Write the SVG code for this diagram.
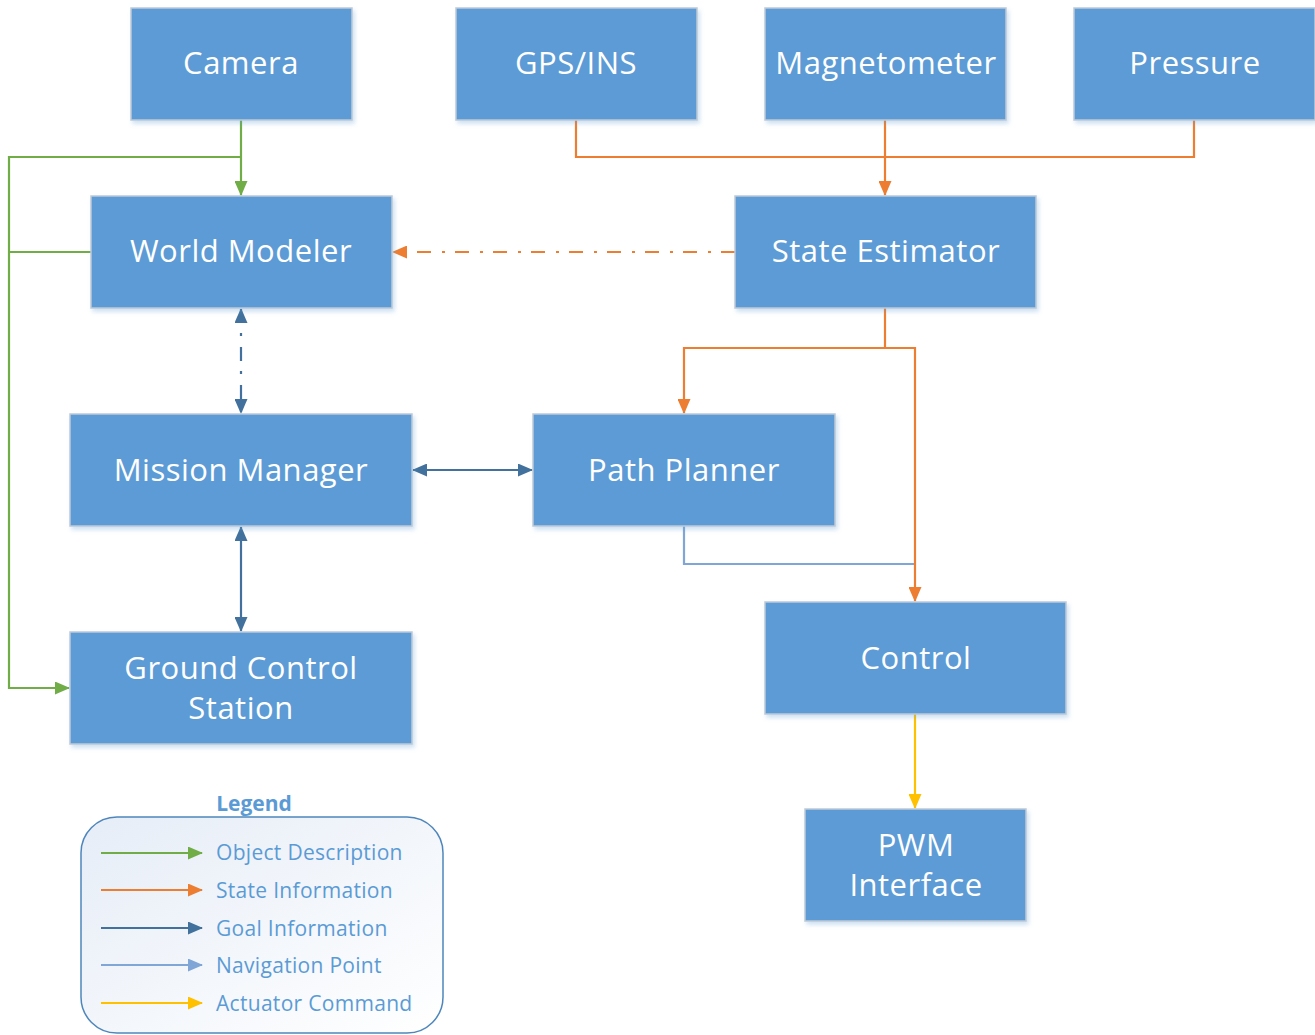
<svg xmlns="http://www.w3.org/2000/svg" width="1315" height="1035" viewBox="0 0 1315 1035">
<style>
.box{fill:#5B9BD5;stroke:#BFC9D6;stroke-width:1.5}
.lbl{font-family:"Open Sans","Noto Sans",sans-serif;font-size:31px;letter-spacing:0.5px;fill:#FFFFFF;text-anchor:middle}
.c{fill:none;stroke-width:2.2}
.g{stroke:#70AD47}.o{stroke:#ED7D31}.b{stroke:#41719C}.n{stroke:#7FA6D6}.y{stroke:#FFC000}
.leg{font-family:"Open Sans","Noto Sans",sans-serif;font-size:21px;letter-spacing:0.3px;fill:#5B9BD5}
</style>
<defs>
<filter id="sh" x="-10%" y="-10%" width="125%" height="130%">
<feDropShadow dx="2" dy="3" stdDeviation="2" flood-color="#5B9BD5" flood-opacity="0.3"/>
</filter>
<linearGradient id="lg" x1="0" y1="0" x2="1" y2="1">
<stop offset="0" stop-color="#E6EDF7"/>
<stop offset="1" stop-color="#FFFFFF"/>
</linearGradient>
<marker id="ag" viewBox="0 0 15 13" refX="14" refY="6.5" markerWidth="15" markerHeight="13" markerUnits="userSpaceOnUse" orient="auto-start-reverse"><path d="M0,0 L15,6.5 L0,13 Z" fill="#70AD47"/></marker>
<marker id="ao" viewBox="0 0 15 13" refX="14" refY="6.5" markerWidth="15" markerHeight="13" markerUnits="userSpaceOnUse" orient="auto-start-reverse"><path d="M0,0 L15,6.5 L0,13 Z" fill="#ED7D31"/></marker>
<marker id="ab" viewBox="0 0 15 13" refX="14" refY="6.5" markerWidth="15" markerHeight="13" markerUnits="userSpaceOnUse" orient="auto-start-reverse"><path d="M0,0 L15,6.5 L0,13 Z" fill="#41719C"/></marker>
<marker id="an" viewBox="0 0 15 13" refX="14" refY="6.5" markerWidth="15" markerHeight="13" markerUnits="userSpaceOnUse" orient="auto-start-reverse"><path d="M0,0 L15,6.5 L0,13 Z" fill="#7FA6D6"/></marker>
<marker id="ay" viewBox="0 0 15 13" refX="14" refY="6.5" markerWidth="15" markerHeight="13" markerUnits="userSpaceOnUse" orient="auto-start-reverse"><path d="M0,0 L15,6.5 L0,13 Z" fill="#FFC000"/></marker>
</defs>
<rect width="1315" height="1035" fill="#FFFFFF"/>

<g id="connectors">
<path class="c g" d="M241,120 V195" marker-end="url(#ag)"/>
<path class="c g" d="M241,157 H9 V688 H69" marker-end="url(#ag)"/>
<path class="c g" d="M91,252 H9"/>
<path class="c o" d="M576,120 V157 H1194 V120"/>
<path class="c o" d="M885,120 V195" marker-end="url(#ao)"/>
<path class="c o" d="M735,252 H393" stroke-dasharray="14 10 3 11" marker-end="url(#ao)"/>
<path class="c b" d="M241,309 V413" stroke-dasharray="14 10 3 11" marker-start="url(#ab)" marker-end="url(#ab)"/>
<path class="c b" d="M413,470 H532" marker-start="url(#ab)" marker-end="url(#ab)"/>
<path class="c b" d="M241,527 V631" marker-start="url(#ab)" marker-end="url(#ab)"/>
<path class="c n" d="M684,526 V564 H915"/>
<path class="c o" d="M885,308 V348 H684 V413" marker-end="url(#ao)"/>
<path class="c o" d="M885,348 H915 V601" marker-end="url(#ao)"/>
<path class="c y" d="M915,714 V808" marker-end="url(#ay)"/>
</g>

<g id="camera"><rect class="box" filter="url(#sh)" x="131" y="8" width="221" height="112"/><text class="lbl" x="241" y="74">Camera</text></g>
<g id="gps"><rect class="box" filter="url(#sh)" x="456" y="8" width="241" height="112"/><text class="lbl" x="576" y="74">GPS/INS</text></g>
<g id="magnetometer"><rect class="box" filter="url(#sh)" x="765" y="8" width="241" height="112"/><text class="lbl" x="886" y="74">Magnetometer</text></g>
<g id="pressure"><rect class="box" filter="url(#sh)" x="1074" y="8" width="241" height="112"/><text class="lbl" x="1195" y="74">Pressure</text></g>
<g id="world-modeler"><rect class="box" filter="url(#sh)" x="91" y="196" width="301" height="112"/><text class="lbl" x="241" y="262">World Modeler</text></g>
<g id="state-estimator"><rect class="box" filter="url(#sh)" x="735" y="196" width="301" height="112"/><text class="lbl" x="886" y="262">State Estimator</text></g>
<g id="mission-manager"><rect class="box" filter="url(#sh)" x="70" y="414" width="342" height="112"/><text class="lbl" x="241" y="481">Mission Manager</text></g>
<g id="path-planner"><rect class="box" filter="url(#sh)" x="533" y="414" width="302" height="112"/><text class="lbl" x="684" y="481">Path Planner</text></g>
<g id="ground-control"><rect class="box" filter="url(#sh)" x="70" y="632" width="342" height="112"/><text class="lbl" x="241" y="679">Ground Control</text><text class="lbl" x="241" y="719">Station</text></g>
<g id="control"><rect class="box" filter="url(#sh)" x="765" y="602" width="301" height="112"/><text class="lbl" x="916" y="669">Control</text></g>
<g id="pwm"><rect class="box" filter="url(#sh)" x="805" y="809" width="221" height="112"/><text class="lbl" x="916" y="856">PWM</text><text class="lbl" x="916" y="896">Interface</text></g>

<g id="legend">
<text x="254" y="811" font-family="'Open Sans','Noto Sans',sans-serif" font-size="21" font-weight="bold" fill="#5B9BD5" text-anchor="middle">Legend</text>
<rect x="81" y="817" width="362" height="216" rx="36" fill="url(#lg)" stroke="#4E86BC" stroke-width="1.5"/>
<path class="c g" d="M101,853 H202" marker-end="url(#ag)"/>
<path class="c o" d="M101,890 H202" marker-end="url(#ao)"/>
<path class="c b" d="M101,928 H202" marker-end="url(#ab)"/>
<path class="c n" d="M101,965 H202" marker-end="url(#an)"/>
<path class="c y" d="M101,1003 H202" marker-end="url(#ay)"/>
<text class="leg" x="216" y="860">Object Description</text>
<text class="leg" x="216" y="898">State Information</text>
<text class="leg" x="216" y="936">Goal Information</text>
<text class="leg" x="216" y="973">Navigation Point</text>
<text class="leg" x="216" y="1011">Actuator Command</text>
</g>
</svg>
